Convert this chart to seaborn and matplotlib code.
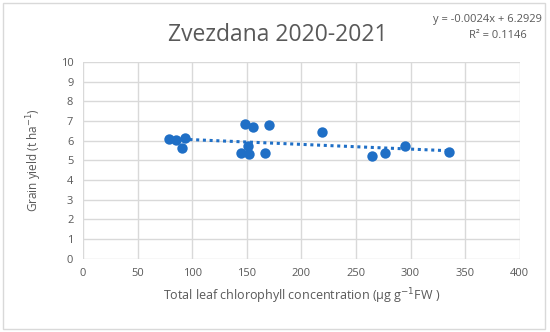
import numpy as np
import pandas as pd
import matplotlib
matplotlib.use('Agg')
import matplotlib.pyplot as plt
import seaborn as sns
from matplotlib.patches import Rectangle

# values
chlorophyll = [79, 85, 93, 91, 148, 156, 170, 219, 151, 145, 152, 167, 265, 277, 295, 335]
grain_yield = [6.07, 6.05, 6.12, 5.65, 6.87, 6.70, 6.78, 6.44, 5.71, 5.39, 5.30, 5.37, 5.22, 5.35, 5.73, 5.44]
trend_slope = -0.0024
trend_intercept = 6.2929
r_squared = 0.1146

df = pd.DataFrame({'chl': chlorophyll, 'yield': grain_yield})

sns.set_style('white')
plt.rcParams['font.family'] = ['Open Sans', 'DejaVu Sans']
grey = '#595959'
blue = '#1f6fc6'

fig = plt.figure(figsize=(5.5, 3.32), dpi=100)
ax = fig.add_axes([0.151, 0.221, 0.794, 0.592])

# trend line from the equation shown on the chart
tx = np.array([df['chl'].min(), df['chl'].max()])
ax.plot(tx, trend_slope * tx + trend_intercept, linestyle=(0, (1, 1.2)), color=blue, linewidth=2.2, zorder=2)

sns.scatterplot(data=df, x='chl', y='yield', ax=ax, color=blue, s=56, edgecolor=blue, linewidth=0, zorder=3)

ax.set_xlim(0, 400)
ax.set_ylim(0, 10)
ax.set_xticks(range(0, 401, 50))
ax.set_yticks(range(0, 11))
ax.grid(True, color='#d9d9d9', linewidth=1)
for s in ax.spines.values():
    s.set_visible(False)
ax.tick_params(length=0, labelsize=8, labelcolor=grey, pad=7)
ax.set_xlabel('Total leaf chlorophyll concentration (\u00b5g g$^{\u22121}$FW )', fontsize=9, color=grey, labelpad=5)
ax.set_ylabel('Grain yield (t ha$^{\u22121}$)', fontsize=8.5, color=grey, labelpad=12)

fig.text(0.505, 0.895, 'Zvezdana 2020-2021', ha='center', va='center', fontsize=16.5, color=grey)
fig.text(0.985, 0.94, 'y = -0.0024x + 6.2929', ha='right', va='center', fontsize=8, color=grey)
fig.text(0.905, 0.893, 'R\u00b2 = 0.1146', ha='center', va='center', fontsize=8, color=grey)

fig.patches.append(Rectangle((0.006, 0.01), 0.985, 0.98, transform=fig.transFigure,
                             fill=False, edgecolor='#d9d9d9', linewidth=1))

plt.savefig('out.png', dpi=100)
plt.close()
